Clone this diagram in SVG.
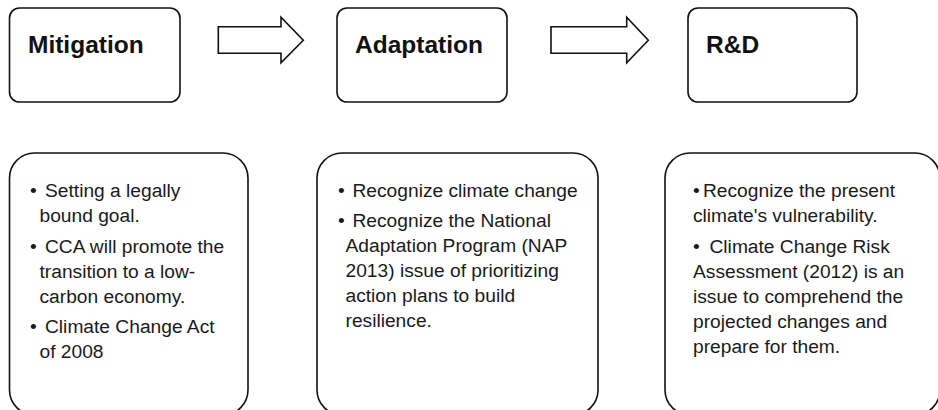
<svg xmlns="http://www.w3.org/2000/svg" width="938" height="410" viewBox="0 0 938 410">
<style>
.box{fill:#fff;stroke:#111;stroke-width:1.6}
.arrow{fill:#fff;stroke:#111;stroke-width:1.6;stroke-linejoin:miter}
.title{font-family:"Liberation Sans",Arial,sans-serif;font-weight:bold;font-size:24.5px;fill:#111}
.body{font-family:"Liberation Sans",Arial,sans-serif;font-size:19.2px;fill:#1a1a1a}
</style>
<rect width="938" height="410" fill="#fff"/>
<g id="mitigation">
<rect class="box" x="9.5" y="8" width="170.5" height="94" rx="10"/>
<text class="title" x="28" y="53">Mitigation</text>
</g>
<g id="adaptation">
<rect class="box" x="337" y="8" width="170" height="94" rx="10"/>
<text class="title" x="355" y="53">Adaptation</text>
</g>
<g id="rd">
<rect class="box" x="688" y="8" width="169" height="94" rx="10"/>
<text class="title" x="706" y="53">R&amp;D</text>
</g>
<g id="connectors">
<path class="arrow" d="M218.3,26.7 H281 V17.3 L303.3,40.3 L281,62.7 V53.3 H218.3 Z"/>
<path class="arrow" d="M551,26.7 H626.7 V17.3 L648.3,40.3 L626.7,62.7 V53.3 H551 Z"/>
</g>
<g id="mitigation-details">
<rect class="box" x="9.5" y="153" width="238.5" height="262" rx="25"/>
<text class="body">
<tspan x="30" y="197">•</tspan><tspan x="45" y="197">Setting a legally</tspan>
<tspan x="39.5" y="222">bound goal.</tspan>
<tspan x="30" y="252.5">•</tspan><tspan x="45" y="252.5">CCA will promote the</tspan>
<tspan x="39.5" y="277.5">transition to a low-</tspan>
<tspan x="39.5" y="302.5">carbon economy.</tspan>
<tspan x="30" y="333">•</tspan><tspan x="45" y="333">Climate Change Act</tspan>
<tspan x="39.5" y="358">of 2008</tspan>
</text>
</g>
<g id="adaptation-details">
<rect class="box" x="317" y="153" width="281" height="262" rx="25"/>
<text class="body">
<tspan x="338" y="196.5">•</tspan><tspan x="352.5" y="196.5">Recognize climate change</tspan>
<tspan x="338" y="226.7">•</tspan><tspan x="352.5" y="226.7">Recognize the National</tspan>
<tspan x="345.5" y="251.7">Adaptation Program (NAP</tspan>
<tspan x="345.5" y="276.7">2013) issue of prioritizing</tspan>
<tspan x="345.5" y="301.7">action plans to build</tspan>
<tspan x="345.5" y="326.7">resilience.</tspan>
</text>
</g>
<g id="rd-details">
<rect class="box" x="665" y="153" width="275" height="262" rx="25"/>
<text class="body">
<tspan x="693" y="196.5">•</tspan><tspan x="703" y="196.5">Recognize the present</tspan>
<tspan x="693" y="222">climate's vulnerability.</tspan>
<tspan x="693" y="252.5">•</tspan><tspan x="709.5" y="252.5">Climate Change Risk</tspan>
<tspan x="693" y="277.5">Assessment (2012) is an</tspan>
<tspan x="693" y="302.5">issue to comprehend the</tspan>
<tspan x="693" y="327.5">projected changes and</tspan>
<tspan x="693" y="352.5">prepare for them.</tspan>
</text>
</g>
</svg>
